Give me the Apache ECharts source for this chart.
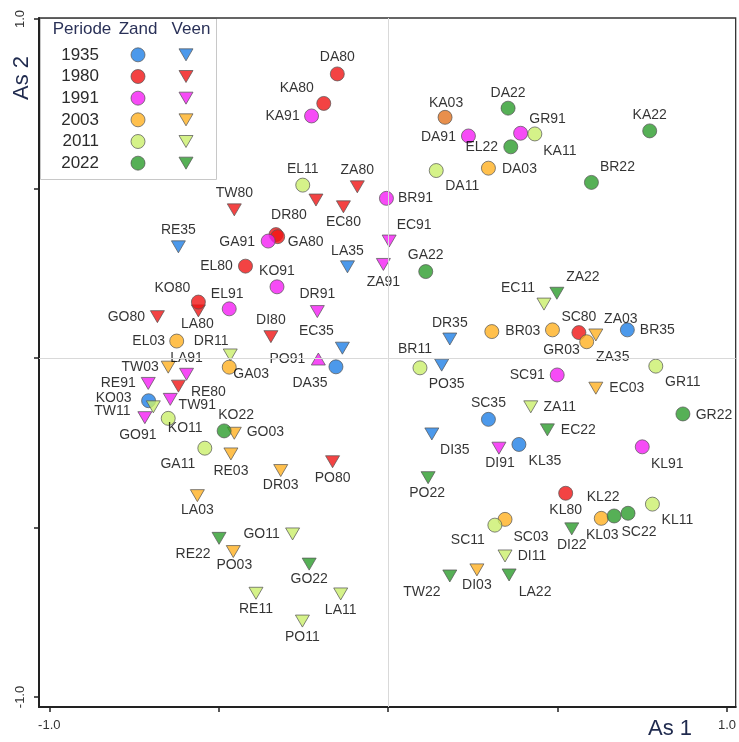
<!DOCTYPE html>
<html>
<head>
<meta charset="utf-8">
<script src="https://cdn.jsdelivr.net/npm/echarts@6/dist/echarts.min.js"></script>
<style>
html,body{margin:0;padding:0;background:#fff;}
#chart{width:739px;height:742px;}
</style>
</head>
<body>
<div id="chart"></div>
<script>
// ---- data (ordination scores) ----
const periods = ['1935', '1980', '1991', '2003', '2011', '2022'];
const headerTexts = ['Periode', 'Zand', 'Veen'];
const axisTitles = ['As 1', 'As 2'];
const tickValues = [-1, -0.5, 0, 0.5, 1];
const tickLabelValues = [-1, 1];

const zand1935 = [['DA35',-0.154,-0.026],['BR35',0.706,0.083],['SC35',0.296,-0.181],['KL35',0.386,-0.255],['KO03',-0.707,-0.126]];
const veen1935 = [['RE35',-0.619,0.328],['LA35',-0.120,0.269],['EC35',-0.135,0.029],['DR35',0.182,0.056],['PO35',0.158,-0.021],['DI35',0.129,-0.224]];
const zand1980 = [['DA80',-0.150,0.838],['KA80',-0.190,0.751],['DR80',-0.331,0.364],['GA80',-0.326,0.358],['EL80',-0.421,0.271],['KO80',-0.560,0.165],['SC80',0.563,0.075],['KL80',0.524,-0.399]];
const veen1980 = [['ZA80',-0.091,0.505],['',-0.213,0.466],['EC80',-0.132,0.446],['TW80',-0.454,0.437],['LA80',-0.560,0.139],['GO80',-0.681,0.122],['DI80',-0.346,0.063],['RE80',-0.619,-0.083],['PO80',-0.164,-0.306]];
const zand1991 = [['KA91',-0.226,0.714],['BR91',-0.005,0.471],['GA91',-0.354,0.345],['KO91',-0.328,0.210],['EL91',-0.469,0.145],['DA91',0.237,0.655],['GR91',0.391,0.663],['SC91',0.499,-0.050],['KL91',0.750,-0.262]];
const veen1991 = [['EC91',0.003,0.345],['ZA91',-0.014,0.276],['DR91',-0.209,0.137],['PO91',-0.206,-0.003],['LA91',-0.595,-0.048],['RE91',-0.708,-0.075],['TW91',-0.643,-0.122],['GO91',-0.718,-0.176],['DI91',0.327,-0.266]];
const zand2003 = [['KA03',0.168,0.710],['DA03',0.296,0.560],['EL03',-0.624,0.050],['GA03',-0.469,-0.027],['BR03',0.306,0.078],['GR03',0.485,0.083],['ZA35',0.586,0.048],['SC03',0.345,-0.476],['KL03',0.629,-0.473]];
const veen2003 = [['ZA03',0.613,0.068],['EC03',0.613,-0.089],['TW03',-0.649,-0.027],['GO03',-0.454,-0.222],['RE03',-0.464,-0.283],['DR03',-0.317,-0.332],['LA03',-0.563,-0.406],['PO03',-0.457,-0.571],['DI03',0.262,-0.625]];
const zand2011 = [['EL11',-0.252,0.510],['KA11',0.433,0.661],['DA11',0.142,0.553],['BR11',0.094,-0.029],['GR11',0.790,-0.024],['KO11',-0.649,-0.178],['GA11',-0.541,-0.266],['SC11',0.315,-0.493],['KL11',0.780,-0.431]];
const veen2011 = [['EC11',0.460,0.159],['DR11',-0.466,0.009],['TW11',-0.693,-0.144],['ZA11',0.421,-0.144],['GO11',-0.282,-0.519],['DI11',0.345,-0.584],['RE11',-0.390,-0.694],['LA11',-0.140,-0.696],['PO11',-0.253,-0.776]];
const zand2022 = [['DA22',0.354,0.737],['EL22',0.362,0.623],['KA22',0.772,0.670],['BR22',0.600,0.518],['GA22',0.111,0.255],['KO22',-0.484,-0.215],['GR22',0.870,-0.165],['KL22',0.667,-0.466],['SC22',0.708,-0.458]];
const veen2022 = [['ZA22',0.498,0.191],['EC22',0.470,-0.212],['PO22',0.118,-0.353],['DI22',0.542,-0.504],['TW22',0.182,-0.643],['LA22',0.357,-0.640],['RE22',-0.499,-0.532],['GO22',-0.233,-0.608]];

// ---- styling (kept apart from the data) ----
const periodColors = {'1935':'#1f7fe6','1980':'#f01414','1991':'#f41ef4','2003':'#ffb020','2011':'#cbef6c','2022':'#2c9c2c'};
const colorOverride = {KA03:'#e2731f'};
const upTriangles = ['PO91'];
const labelOffset = {
  DA80:[0,-17],KA80:[-27,-15],KA91:[-29,0],EL11:[0,-16],ZA80:[0,-17],EC80:[0,15],BR91:[29,0],TW80:[0,-17],
  DR80:[13,-19],GA91:[-31,1],GA80:[28,5],RE35:[0,-17],LA35:[0,-16],ZA91:[0,18],EC91:[25,-16],EL80:[-29,0],
  KO91:[0,-16],KO80:[-26,-14],LA80:[-1,13],EL91:[-2,-15],GO80:[-31,0],DR91:[0,-17],DI80:[0,-17],EC35:[-26,-17],
  EL03:[-28,0],DR11:[-19,-14],GA03:[22,7],PO91:[-31,0],DA35:[-26,16],TW03:[-28,0],LA91:[0,-16],RE91:[-30,0],
  RE80:[30,6],KO03:[-35,-3],TW11:[-41,4],TW91:[27,6],GO91:[-7,17],KO11:[17,10],KO22:[12,-16],GO03:[31,-1],
  GA11:[-27,16],RE03:[0,17],DR03:[0,15],PO80:[0,16],LA03:[0,15],GO11:[-31,0],RE22:[-26,16],PO03:[1,14],
  GO22:[0,15],RE11:[0,16],LA11:[0,16],PO11:[0,16],
  KA03:[1,-14],DA22:[0,-15],DA91:[-30,1],GR91:[27,-14],KA11:[25,17],EL22:[-29,0],DA11:[26,16],DA03:[31,1],
  KA22:[0,-16],BR22:[26,-15],GA22:[0,-16],ZA22:[26,-16],EC11:[-26,-16],DR35:[0,-16],BR03:[31,0],SC80:[0,-15],
  ZA03:[25,-16],BR35:[30,0],GR03:[9,20],ZA35:[26,15],BR11:[-5,-19],PO35:[5,19],SC91:[-30,0],GR11:[27,16],
  EC03:[31,0],SC35:[0,-16],ZA11:[29,0],GR22:[31,1],EC22:[31,0],DI35:[23,16],DI91:[1,15],KL35:[26,17],
  KL91:[25,17],PO22:[-1,15],KL80:[0,17],KL22:[-11,-19],KL11:[25,16],SC22:[11,19],KL03:[1,17],DI22:[0,16],
  SC11:[-27,15],SC03:[26,18],DI11:[27,0],TW22:[-28,16],DI03:[0,15],LA22:[26,17]
};

const FONT = '"Liberation Sans", Arial, sans-serif';
const zandSets = {'1935':zand1935,'1980':zand1980,'1991':zand1991,'2003':zand2003,'2011':zand2011,'2022':zand2022};
const veenSets = {'1935':veen1935,'1980':veen1980,'1991':veen1991,'2003':veen2003,'2011':veen2011,'2022':veen2022};

function makeSeries(rows, period, isVeen) {
  return {
    type: 'scatter', name: (isVeen ? 'Veen ' : 'Zand ') + period,
    xAxisIndex: 0, yAxisIndex: 0, z: 3,
    symbol: isVeen ? 'triangle' : 'circle',
    symbolSize: isVeen ? [14, 12] : 14,
    symbolRotate: isVeen ? 180 : 0,
    itemStyle: {color: periodColors[period], borderColor: '#555', borderWidth: 0.9},
    label: {show: true, position: 'inside', formatter: '{b}', color: '#000', fontSize: 14,
            fontFamily: FONT, textBorderWidth: 0},
    emphasis: {disabled: true},
    data: rows.map(function (r) {
      const d = {name: r[0], value: [r[1], r[2]]};
      d.label = r[0] ? {offset: labelOffset[r[0]] || [0, -16]} : {show: false};
      if (colorOverride[r[0]]) d.itemStyle = {color: colorOverride[r[0]]};
      if (upTriangles.indexOf(r[0]) >= 0) d.symbolRotate = 0;
      return d;
    })
  };
}

const series = [{
  type: 'scatter', xAxisIndex: 0, yAxisIndex: 0, data: [], z: 1, silent: true,
  markLine: {silent: true, symbol: 'none', animation: false, label: {show: false},
    lineStyle: {color: '#d9d9d9', width: 1, type: 'solid'},
    data: [{xAxis: 0}, {yAxis: 0}]}
}];
periods.forEach(function (p) {
  series.push(makeSeries(veenSets[p], p, true));
  series.push(makeSeries(zandSets[p], p, false));
});
// legend table drawn as a small scatter on its own category grid
series.push({
  type: 'scatter', xAxisIndex: 1, yAxisIndex: 1, z: 6, silent: true,
  data: periods.flatMap(function (p) {
    return [
      {value: ['Zand', p], symbol: 'circle', symbolSize: 14, itemStyle: {color: periodColors[p], borderColor: '#555', borderWidth: 0.9}},
      {value: ['Veen', p], symbol: 'triangle', symbolSize: [14, 12], symbolRotate: 180, itemStyle: {color: periodColors[p], borderColor: '#555', borderWidth: 0.9}}
    ];
  })
});

const chart = echarts.init(document.getElementById('chart'), null, {renderer: 'canvas'});
chart.setOption({
  animation: false,
  backgroundColor: '#fff',
  grid: [
    {left: 39, right: 3, top: 18, bottom: 35, show: true, borderColor: '#333', borderWidth: 1.3, backgroundColor: 'transparent'},
    {left: 114, width: 96, top: 44, height: 130}
  ],
  xAxis: [
    {type: 'value', gridIndex: 0, min: -1.0304, max: 1.0257,
     axisLine: {show: true, onZero: false, lineStyle: {color: '#222', width: 2}},
     axisTick: {show: true, customValues: tickValues, length: 5, lineStyle: {color: '#222', width: 1.5}},
     axisLabel: {show: true, customValues: tickLabelValues, formatter: function (v) { return v.toFixed(1); },
                 color: '#333', fontSize: 13, fontFamily: FONT, margin: 12},
     splitLine: {show: false}},
    {type: 'category', gridIndex: 1, data: ['Zand', 'Veen'], show: false}
  ],
  yAxis: [
    {type: 'value', gridIndex: 0, min: -1.0295, max: 1.003,
     axisLine: {show: true, onZero: false, lineStyle: {color: '#222', width: 2}},
     axisTick: {show: true, customValues: tickValues, length: 5, lineStyle: {color: '#222', width: 1.5}},
     axisLabel: {show: true, customValues: tickLabelValues, formatter: function (v) { return v.toFixed(1); },
                 rotate: 90, color: '#333', fontSize: 13, fontFamily: FONT, margin: 12},
     splitLine: {show: false}},
    {type: 'category', gridIndex: 1, data: periods, inverse: true, z: 10,
     axisLine: {show: false}, axisTick: {show: false}, splitLine: {show: false},
     axisLabel: {show: true, interval: 0, hideOverlap: false, color: '#2b2b2b', fontSize: 17, fontFamily: FONT, margin: 15}}
  ],
  graphic: [
    {type: 'rect', z: -1, shape: {x: 40.5, y: 18.5, width: 176, height: 161},
     style: {fill: '#fff', stroke: '#c8c8c8', lineWidth: 1}},
    {type: 'text', z: 6, x: 82, y: 29, style: {text: headerTexts[0], font: '17px ' + FONT, fill: '#2a3158', textAlign: 'center', textVerticalAlign: 'middle'}},
    {type: 'text', z: 6, x: 138, y: 29, style: {text: headerTexts[1], font: '17px ' + FONT, fill: '#2a3158', textAlign: 'center', textVerticalAlign: 'middle'}},
    {type: 'text', z: 6, x: 191, y: 29, style: {text: headerTexts[2], font: '17px ' + FONT, fill: '#2a3158', textAlign: 'center', textVerticalAlign: 'middle'}},
    {type: 'text', z: 6, x: 670, y: 729, style: {text: axisTitles[0], font: '22px ' + FONT, fill: '#1f2a4e', textAlign: 'center', textVerticalAlign: 'middle'}},
    {type: 'text', z: 6, x: 22, y: 78, rotation: Math.PI / 2, style: {text: axisTitles[1], font: '22px ' + FONT, fill: '#1f2a4e', textAlign: 'center', textVerticalAlign: 'middle'}}
  ],
  series: series
});
</script>
</body>
</html>
